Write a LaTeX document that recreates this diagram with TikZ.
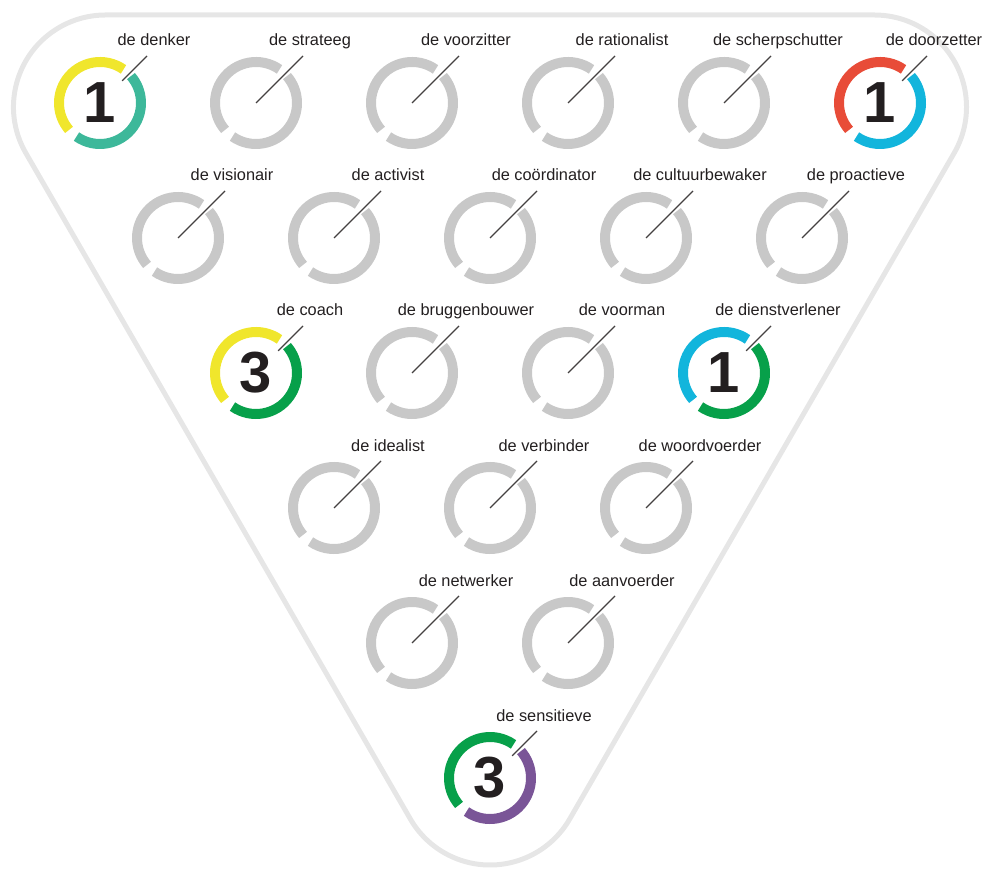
\documentclass[tikz,border=0pt]{standalone}
\usepackage{fontspec}
\setmainfont{Liberation Sans}
\usepackage{xcolor}
\usetikzlibrary{positioning,calc}

\definecolor{ringgrey}{HTML}{C8C8C8}
\definecolor{framegrey}{HTML}{E6E6E6}
\definecolor{inkdark}{HTML}{231F20}
\definecolor{cyellow}{HTML}{F0E62C}
\definecolor{cteal}{HTML}{3DB89A}
\definecolor{cred}{HTML}{E84C38}
\definecolor{ccyan}{HTML}{12B5DC}
\definecolor{cgreen}{HTML}{07A04A}
\definecolor{cpurple}{HTML}{7A5597}

\begin{document}
\begin{tikzpicture}[
  x=0.02cm, y=0.02cm,
  role/.style={circle, minimum size=1.24cm, inner sep=0pt, text=inkdark, font=\fontsize{33}{33}\selectfont\bfseries},
  ring/.style={line width=0.2cm},
  lbl/.style={anchor=base, text=inkdark, inner sep=0pt, font=\fontsize{9.3}{11}\selectfont},
  leader/.style={draw=inkdark!85, line width=0.7pt},
  frame/.style={draw=framegrey, line width=0.1cm}
]
  \useasboundingbox (0,0) rectangle (989,869);
  % rounded triangle
  \draw[frame] (105.5,854) -- (874.5,854) arc[start angle=90, end angle=-30, radius=92]
    -- (569.7,50) arc[start angle=-30, end angle=-150, radius=92]
    -- (25.8,716) arc[start angle=210, end angle=90, radius=92] -- cycle;

  % grey roles
  \foreach \n/\x/\y/\t in {strateeg/256/766/de strateeg, voorzitter/412/766/de voorzitter,
      rationalist/568/766/de rationalist, scherpschutter/724/766/de scherpschutter,
      visionair/178/631/de visionair, activist/334/631/de activist,
      coordinator/490/631/de coördinator, cultuurbewaker/646/631/de cultuurbewaker,
      proactieve/802/631/de proactieve, bruggenbouwer/412/496/de bruggenbouwer,
      voorman/568/496/de voorman, idealist/334/361/de idealist,
      verbinder/490/361/de verbinder, woordvoerder/646/361/de woordvoerder,
      netwerker/412/226/de netwerker, aanvoerder/568/226/de aanvoerder}{
    \node[role] (\n) at (\x,\y) {};
    \coordinate (\n-tip) at (\x+47,\y+47);
    \node[lbl] (\n-lbl) at (\x+54,\y+57) {\t};
    \draw[ring, ringgrey] (\n.center) ++(55:41) arc[start angle=55, end angle=221, radius=41];
    \draw[ring, ringgrey] (\n.center) ++(235:41) arc[start angle=235, end angle=401, radius=41];
    \draw[leader] (\n.center) -- (\n-tip);
  }

  % scored roles
  \foreach \n/\x/\y/\t/\num/\cl/\cr in {denker/100/766/de denker/1/cyellow/cteal,
      doorzetter/880/766/de doorzetter/1/cred/ccyan,
      coach/256/496/de coach/3/cyellow/cgreen,
      dienstverlener/724/496/de dienstverlener/1/ccyan/cgreen,
      sensitieve/490/91/de sensitieve/3/cgreen/cpurple}{
    \node[role] (\n) at (\x,\y) {\num};
    \coordinate (\n-tip) at (\x+47,\y+47);
    \node[lbl] (\n-lbl) at (\x+54,\y+57) {\t};
    \draw[ring, draw=\cl] (\n.center) ++(55:41) arc[start angle=55, end angle=221, radius=41];
    \draw[ring, draw=\cr] (\n.center) ++(235:41) arc[start angle=235, end angle=401, radius=41];
    \draw[leader] (\n) -- (\n-tip);
  }
\end{tikzpicture}
\end{document}
